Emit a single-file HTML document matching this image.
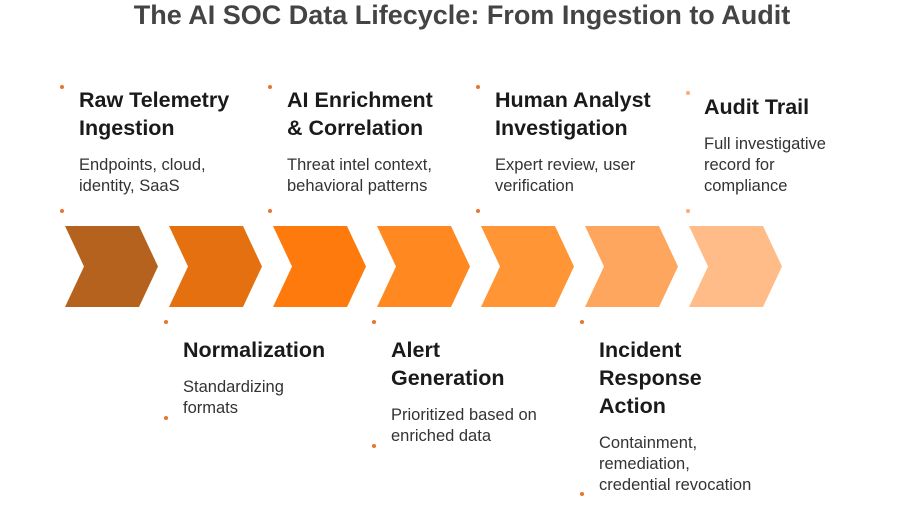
<!DOCTYPE html>
<html><head><meta charset="utf-8"><style>
body{margin:0;width:924px;height:520px;background:#fff;position:relative;overflow:hidden;font-family:"Liberation Sans",sans-serif}
.t{position:absolute;font-weight:bold;font-size:21.5px;line-height:28px;color:#1a1a1a}
.d{position:absolute;font-size:16.5px;line-height:21px;color:#333}
h1{position:absolute;top:0;left:0;width:924px;text-align:center;margin:0;font-size:27px;line-height:30px;color:#444;font-weight:bold}
</style></head><body>
<h1>The AI SOC Data Lifecycle: From Ingestion to Audit</h1>
<svg width="924" height="520" style="position:absolute;left:0;top:0">
<g>
<polygon points="65,226 139,226 158,266.5 139,307 65,307 84,266.5" fill="#B5621F"/>
<polygon points="169,226 243,226 262,266.5 243,307 169,307 188,266.5" fill="#E5700F"/>
<polygon points="273,226 347,226 366,266.5 347,307 273,307 292,266.5" fill="#FE7A0C"/>
<polygon points="377,226 451,226 470,266.5 451,307 377,307 396,266.5" fill="#FF8820"/>
<polygon points="481,226 555,226 574,266.5 555,307 481,307 500,266.5" fill="#FF9535"/>
<polygon points="585,226 659,226 678,266.5 659,307 585,307 604,266.5" fill="#FFA65E"/>
<polygon points="689,226 763,226 782,266.5 763,307 689,307 708,266.5" fill="#FFBC88"/>
</g>
<g fill="#E8762A">
<circle cx="62" cy="87" r="2"/><circle cx="62" cy="211" r="2"/>
<circle cx="270" cy="87" r="2"/><circle cx="270" cy="211" r="2"/>
<circle cx="478" cy="87" r="2"/><circle cx="478" cy="211" r="2"/>
<circle cx="166" cy="322" r="2"/><circle cx="166" cy="418" r="2"/>
<circle cx="374" cy="322" r="2"/><circle cx="374" cy="446" r="2"/>
<circle cx="582" cy="322" r="2"/><circle cx="582" cy="494" r="2"/>
</g>
<g fill="#FFAA70"><circle cx="688" cy="93" r="2"/><circle cx="688" cy="211" r="2"/></g>
</svg>
<div class="t" style="left:79px;top:86px">Raw Telemetry<br>Ingestion</div>
<div class="d" style="left:79px;top:155px">Endpoints, cloud,<br>identity, SaaS</div>
<div class="t" style="left:287px;top:86px">AI Enrichment<br>&amp; Correlation</div>
<div class="d" style="left:287px;top:155px">Threat intel context,<br>behavioral patterns</div>
<div class="t" style="left:495px;top:86px">Human Analyst<br>Investigation</div>
<div class="d" style="left:495px;top:155px">Expert review, user<br>verification</div>
<div class="t" style="left:704px;top:93px">Audit Trail</div>
<div class="d" style="left:704px;top:134px">Full investigative<br>record for<br>compliance</div>
<div class="t" style="left:183px;top:336px">Normalization</div>
<div class="d" style="left:183px;top:377px">Standardizing<br>formats</div>
<div class="t" style="left:391px;top:336px">Alert<br>Generation</div>
<div class="d" style="left:391px;top:405px">Prioritized based on<br>enriched data</div>
<div class="t" style="left:599px;top:336px">Incident<br>Response<br>Action</div>
<div class="d" style="left:599px;top:433px">Containment,<br>remediation,<br>credential revocation</div>
</body></html>
